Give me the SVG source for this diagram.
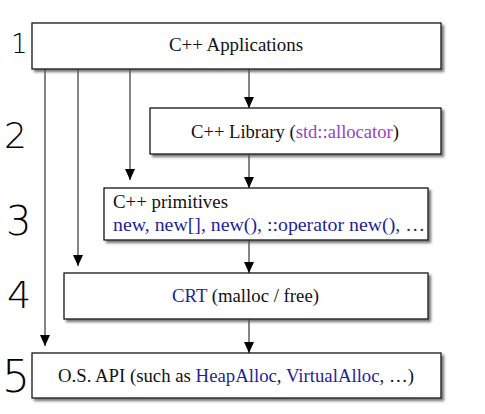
<svg xmlns="http://www.w3.org/2000/svg" width="485" height="414" viewBox="0 0 485 414">
<defs>
<marker id="ah" markerWidth="12" markerHeight="10" refX="11" refY="5" orient="auto" markerUnits="userSpaceOnUse">
<path d="M0,0 L11,5 L0,10 Z" fill="#000"/>
</marker>
<filter id="sh" x="-5%" y="-5%" width="110%" height="120%">
<feDropShadow dx="2.5" dy="2.5" stdDeviation="0.8" flood-color="#555" flood-opacity="0.8"/>
</filter>
<style>
.box{fill:#fff;stroke:#000;stroke-width:1.2;filter:url(#sh)}
.t{font-family:"Liberation Serif","Times New Roman",serif;font-size:18.5px;fill:#111}
.b{fill:#1f1f9a}
.p{fill:#9445c4}
.c{stroke:#333;stroke-width:1.2;fill:none;marker-end:url(#ah)}
.n{font-family:"DejaVu Sans","Liberation Sans",sans-serif;font-weight:200;fill:#000}
</style>
</defs>
<rect width="485" height="414" fill="#fff"/>
<g id="labels">
<text class="n" x="11" y="53" font-size="26">1</text>
<text class="n" x="4" y="148" font-size="36">2</text>
<text class="n" x="6" y="235" font-size="40">3</text>
<text class="n" x="7" y="308" font-size="38">4</text>
<text class="n" x="2" y="392" font-size="44">5</text>
</g>
<g id="connectors">
<line class="c" x1="249" y1="69" x2="249" y2="108"/>
<line class="c" x1="249" y1="154" x2="249" y2="188"/>
<line class="c" x1="249" y1="240" x2="249" y2="273"/>
<line class="c" x1="249" y1="319" x2="249" y2="353"/>
<line class="c" x1="130" y1="69" x2="130" y2="180"/>
<line class="c" x1="78" y1="69" x2="78" y2="266"/>
<line class="c" x1="45" y1="69" x2="45" y2="346"/>
</g>
<g id="app">
<rect class="box" x="32" y="23" width="409" height="46"/>
<text class="t" x="169" y="51" textLength="134" lengthAdjust="spacingAndGlyphs">C++ Applications</text>
</g>
<g id="lib">
<rect class="box" x="150" y="108" width="291" height="46"/>
<text class="t" x="191" y="138" textLength="208" lengthAdjust="spacingAndGlyphs">C++ Library (<tspan class="p">std::allocator</tspan>)</text>
</g>
<g id="prim">
<rect class="box" x="104" y="188" width="324" height="52"/>
<text class="t" x="113" y="208" textLength="115" lengthAdjust="spacingAndGlyphs">C++ primitives</text>
<text class="t b" x="113" y="231" textLength="312" lengthAdjust="spacingAndGlyphs">new, new[], new(), ::operator new(), …</text>
</g>
<g id="crt">
<rect class="box" x="64" y="273" width="364" height="46"/>
<text class="t" x="172" y="302" textLength="147" lengthAdjust="spacingAndGlyphs"><tspan class="b">CRT</tspan> (malloc / free)</text>
</g>
<g id="os">
<rect class="box" x="32" y="353" width="409" height="45"/>
<text class="t" x="58" y="382" textLength="356" lengthAdjust="spacingAndGlyphs">O.S. API (such as <tspan class="b">HeapAlloc</tspan>, <tspan class="b">VirtualAlloc</tspan>, …)</text>
</g>
</svg>
